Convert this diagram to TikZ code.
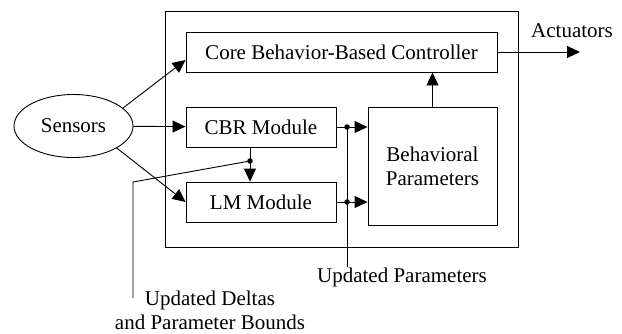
\documentclass[tikz,border=0pt]{standalone}
\usepackage{fontspec}
\setmainfont{Liberation Serif}
\usetikzlibrary{arrows.meta,shapes.geometric}
\begin{document}
\begin{tikzpicture}[x=1pt,y=-1pt,
  font=\fontsize{21}{24}\selectfont,
  line width=0.9pt,
  box/.style={draw,rectangle,inner sep=0pt,anchor=center},
  arr/.style={-{Triangle[length=13pt,width=12pt]}},
  dotn/.style={circle,fill,inner sep=0pt,minimum size=5.5pt},
  lbl/.style={inner sep=0pt,anchor=center}]
\useasboundingbox (0,0) rectangle (622,333);
\node[box,minimum width=353pt,minimum height=236pt] (outer) at (341.5,129) {};
\node[box,minimum width=311pt,minimum height=40pt] (core) at (341.5,52) {Core Behavior-Based Controller};
\node[box,minimum width=150pt,minimum height=40pt] (cbr) at (261,127) {CBR Module};
\node[box,minimum width=150pt,minimum height=40pt] (lm) at (261,202) {LM Module};
\node[box,minimum width=129pt,minimum height=118pt,align=center] (bp) at (432.5,166) {Behavioral\\Parameters};
\node[draw,ellipse,minimum width=119pt,minimum height=63pt,inner sep=0pt] (sens) at (73.5,126) {Sensors};
\node[lbl] (act) at (572,31) {Actuators};
\node[lbl] (upar) at (402,277) {Updated Parameters};
\node[lbl,align=center] (udel) at (210,310) {Updated Deltas\\and Parameter Bounds};
% dots
\node[dotn] (d1) at (250,161) {};
\node[dotn] (d2) at (347,127) {};
\node[dotn] (d3) at (347,202) {};
\coordinate (bend) at (133,182);
\coordinate (dend) at (133,298);
\coordinate (pend) at (347,267);
\coordinate (actend) at (580,52);
% connectors
\draw[arr] (sens.20) -- ([yshift=-8pt]core.west);
\draw[arr] (sens) -- (cbr);
\draw[arr] (sens.-27) -- (lm.west);
\draw[arr] (cbr.south -| d1) -- (lm.north -| d1);
\draw (d1.center) -- (bend) -- (dend);
\draw[arr] (cbr.east) -- (cbr.east -| bp.west);
\draw[arr] (lm.east) -- (lm.east -| bp.west);
\draw (d2.center) -- (pend);
\draw[arr] (bp.north) -- (bp.north |- core.south);
\draw[arr] (core.east) -- (actend);
\end{tikzpicture}
\end{document}
